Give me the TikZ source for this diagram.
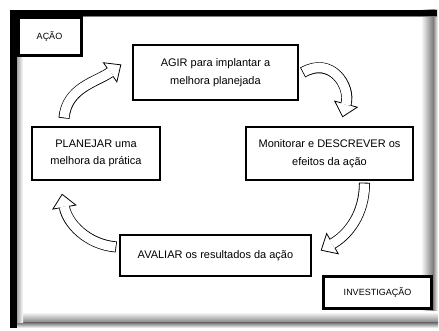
\documentclass[tikz,border=0pt]{standalone}
\usepackage{fontspec}
\setmainfont{Liberation Sans}
\usetikzlibrary{arrows.meta, positioning, calc}
\definecolor{framegray}{RGB}{125, 125, 125}

\begin{document}
\begin{tikzpicture}[x=1pt, y=1pt,
  stepbox/.style={draw, line width=1.4pt, fill=white, align=center, inner sep=0pt,
    font=\fontsize{11}{17.5}\selectfont},
  tagbox/.style={draw, line width=3pt, fill=white, inner sep=0pt,
    font=\fontsize{9}{11}\selectfont},
  bentarrow/.style={draw=black, line width=11pt,
    -{Triangle[length=14pt, width=25pt, line width=0.8pt, fill=white]},
    postaction={draw=white, line width=9.4pt, -, shorten >=13pt, shorten <=0.8pt}}]
  \useasboundingbox (0,0) rectangle (439,331);
  \fill[white] (0,0) rectangle (439,331);

  % Frame with shadow
  \shade[left color=white, right color=framegray] (421,3) rectangle (433,321);
  \shade[left color=framegray, right color=white] (433,3) rectangle (438,321);
  \shade[top color=white, bottom color=framegray] (10,8) rectangle (438,19);
  \shade[top color=framegray, bottom color=white] (10,3) rectangle (438,8);
  \shade[left color=framegray!70, right color=white] (17,8) rectangle (23,315);
  \fill[black] (10,3) rectangle (17,321);
  \fill[black] (10,315) rectangle (437,321);
  \fill[framegray] (17,313.5) rectangle (437,315);

  % Labels
  \node[tagbox, minimum width=63pt, minimum height=38pt] (acao) at (49.5,294) {AÇÃO};
  \node[tagbox, minimum width=108pt, minimum height=32pt] (inv) at (377.5,38) {INVESTIGAÇÃO};

  % Cycle steps
  \node[stepbox, minimum width=165pt, minimum height=55pt] (agir) at (215.5,258.5)
    {AGIR para implantar a\\melhora planejada};
  \node[stepbox, minimum width=128pt, minimum height=53pt] (plan) at (96,177.5)
    {PLANEJAR uma\\melhora da prática};
  \node[stepbox, minimum width=167pt, minimum height=53pt] (mon) at (329.5,177.5)
    {Monitorar e DESCREVER os\\efeitos da ação};
  \node[stepbox, minimum width=191pt, minimum height=41pt] (aval) at (215.5,75.5)
    {AVALIAR os resultados da ação};

  % Curved arrows
  \draw[bentarrow] ($(plan.north)+(-32,8)$) to[out=85, in=215] ($(agir.west)+(-11,8)$);
  \draw[bentarrow] ($(agir.east)+(4,0)$) to[out=30, in=75, looseness=1.4] ($(mon.north)+(13,9)$);
  \draw[bentarrow] ($(mon.south)+(35,-2)$) to[out=-90, in=30] ($(aval.east)+(9,5)$);
  \draw[bentarrow] ($(aval.west)+(-3,8.5)$) to[out=175, in=-80] ($(plan.south)+(-34,-13)$);
\end{tikzpicture}
\end{document}
